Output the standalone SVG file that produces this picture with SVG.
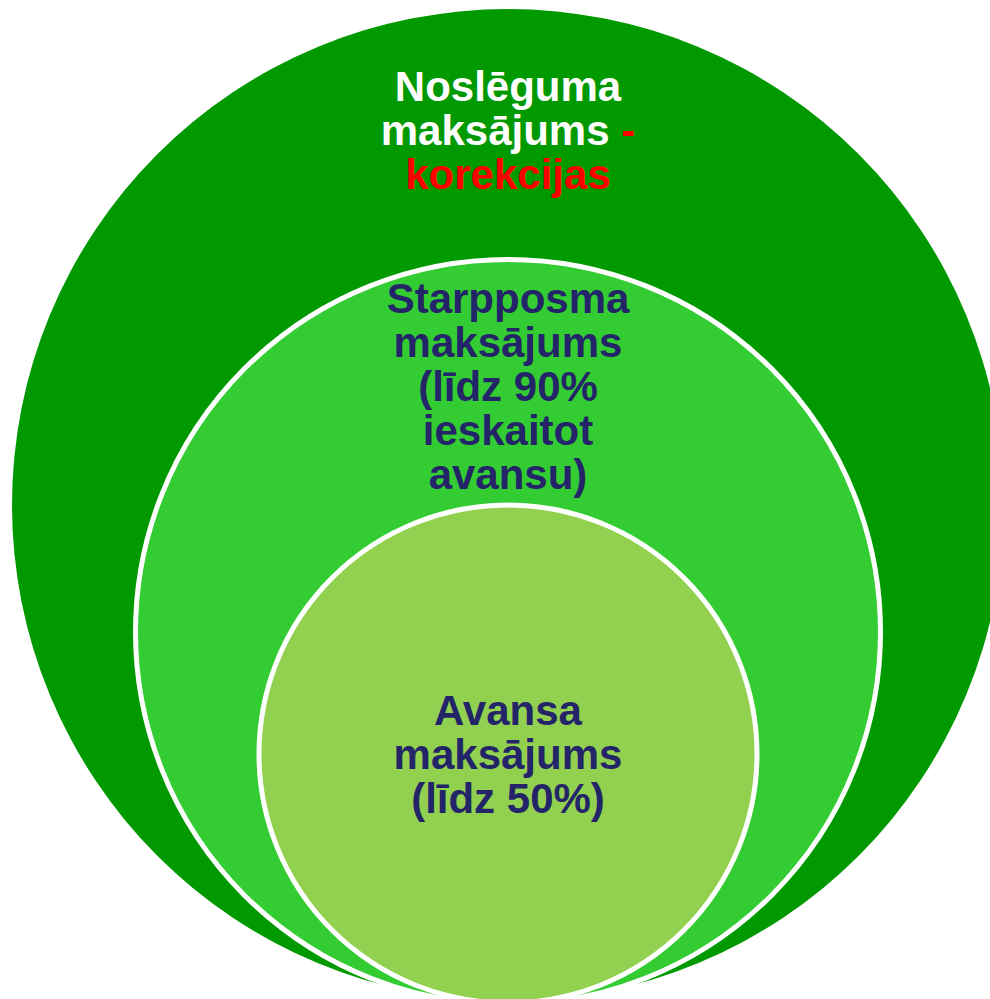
<svg xmlns="http://www.w3.org/2000/svg" width="990" height="999" viewBox="0 0 990 999">
<style>
.ring{stroke:#FFFFFF;stroke-width:5}
.t{font-family:"Liberation Sans",Arial,sans-serif;font-weight:bold;font-size:42px;text-anchor:middle}
.navy{fill:#242468}
.white{fill:#FFFFFF}
.red{fill:#FF0000}
</style>
<rect width="990" height="999" fill="#FFFFFF"/>
<g id="outer">
<circle cx="508" cy="505" r="496" fill="#009900"/>
<text class="t white" x="508" y="101">Noslēguma</text>
<text class="t white" x="508" y="145">maksājums <tspan class="red">-</tspan></text>
<text class="t red" x="508" y="189">korekcijas</text>
</g>
<g id="middle">
<circle class="ring" cx="508" cy="632" r="372.5" fill="#33CC33"/>
<text class="t navy" x="508" y="313">Starpposma</text>
<text class="t navy" x="508" y="357">maksājums</text>
<text class="t navy" x="508" y="401">(līdz 90%</text>
<text class="t navy" x="508" y="445">ieskaitot</text>
<text class="t navy" x="508" y="489">avansu)</text>
</g>
<g id="inner">
<circle class="ring" cx="508" cy="754" r="249" fill="#92D050"/>
<text class="t navy" x="508" y="725">Avansa</text>
<text class="t navy" x="508" y="769">maksājums</text>
<text class="t navy" x="508" y="813">(līdz 50%)</text>
</g>
<g id="connectors"/>
</svg>
